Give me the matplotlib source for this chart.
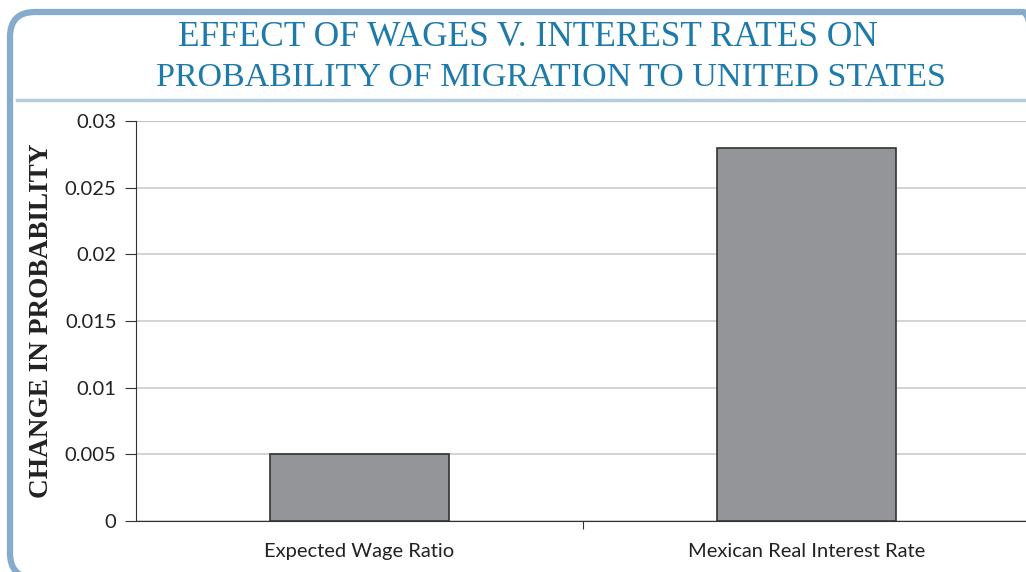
import matplotlib.pyplot as plt
from matplotlib.patches import FancyBboxPatch
from matplotlib.lines import Line2D

# data
categories = ["Expected Wage Ratio", "Mexican Real Interest Rate"]
values = [0.005, 0.028]
yticks = [0, 0.005, 0.01, 0.015, 0.02, 0.025, 0.03]
ytick_labels = ["0", "0.005", "0.01", "0.015", "0.02", "0.025", "0.03"]

W, H = 1026, 572
fig = plt.figure(figsize=(W / 100, H / 100), dpi=100)

# rounded frame around the whole figure (in inches)
frame = FancyBboxPatch((0.10, -0.06), 10.38, (H - 12) / 100 + 0.06,
                       boxstyle="round,pad=0,rounding_size=0.25",
                       transform=fig.dpi_scale_trans, facecolor="none",
                       edgecolor="#86abcb", linewidth=4.5, zorder=5)
fig.patches.append(frame)
fig.lines.append(Line2D([17 / W, 1.0], [1 - 100 / H, 1 - 100 / H],
                        transform=fig.transFigure, color="#b4cbe0", lw=2.5))

fig.text(528 / W, 1 - 38 / H, "EFFECT OF WAGES V. INTEREST RATES ON",
         ha="center", va="center", fontsize=25.4, color="#1d7aaa",
         family="Liberation Serif")
fig.text(551 / W, 1 - 78 / H, "PROBABILITY OF MIGRATION TO UNITED STATES",
         ha="center", va="center", fontsize=24.5, color="#1d7aaa",
         family="Liberation Serif")

ax = fig.add_axes([136 / W, 1 - 521 / H, (1030 - 136) / W, 400 / H])
x = range(len(categories))
ax.bar(x, values, width=0.4, color="#939598", edgecolor="#333333",
       linewidth=1.2, zorder=3)
ax.set_xlim(-0.5, 1.5)
ax.set_ylim(0, 0.03)
ax.set_yticks(yticks)
ax.set_yticklabels(ytick_labels, family="Lato", fontsize=14.5, color="#222222")
ax.yaxis.grid(True, color="#cccccc", lw=1.2, zorder=0)
ax.set_xticks([0.5])
ax.set_xticklabels([""])
ax.set_xticks(list(x), minor=True)
ax.set_xticklabels(categories, minor=True, family="Lato", fontsize=14.5,
                   color="#222222")
ax.tick_params(axis="x", which="minor", length=0, pad=16)
ax.tick_params(axis="x", which="major", length=6, color="#333333")
ax.tick_params(axis="y", length=8, color="#333333", pad=6)
for s in ["top", "right"]:
    ax.spines[s].set_visible(False)
ax.spines["left"].set_color("#333333")
ax.spines["bottom"].set_color("#333333")
ax.axhline(0.03, color="#999999", lw=1.5, zorder=1)
ax.set_ylabel("CHANGE IN PROBABILITY", family="Liberation Serif",
              fontweight="bold", fontsize=19.6, color="#222222", labelpad=8)
ax.set_facecolor("none")

fig.savefig("out.png", dpi=100)
